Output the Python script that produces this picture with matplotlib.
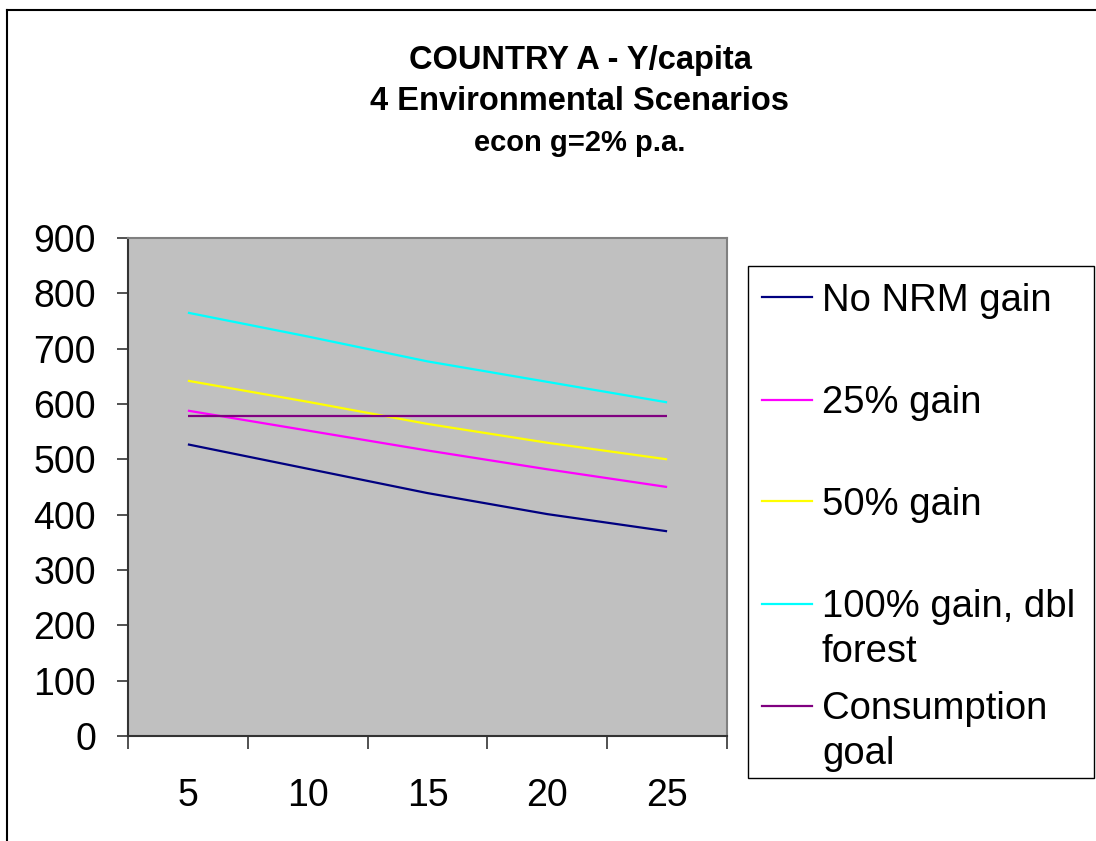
import matplotlib
matplotlib.use("Agg")
import matplotlib.pyplot as plt
from matplotlib.lines import Line2D
from matplotlib.patches import Rectangle
import numpy as np

plt.rcParams["font.family"] = ["Liberation Sans", "DejaVu Sans"]

# Y/capita by year, four environmental scenarios plus the consumption goal
years = ["5", "10", "15", "20", "25"]
no_nrm_gain = [527, 483, 439, 401, 370]
gain_25 = [588, 552, 516, 482, 450]
gain_50 = [642, 604, 564, 530, 500]
gain_100_dbl_forest = [765, 722, 677, 640, 603]
consumption_goal = [578, 578, 578, 578, 578]

series_names = ["No NRM gain", "25% gain", "50% gain",
                "100% gain, dbl\nforest", "Consumption\ngoal"]
series_colors = ["#000080", "#FF00FF", "#FFFF00", "#00FFFF", "#800080"]
series_values = [no_nrm_gain, gain_25, gain_50, gain_100_dbl_forest, consumption_goal]

W, H = 1096, 841
fig = plt.figure(figsize=(W / 100, H / 100), dpi=100)


def fx(x):
    return x / W


def fy(y):
    return 1 - y / H


# plot area in pixel bounds: left, top, right, bottom
L, T, R, B = 128, 238, 727, 736
ax = fig.add_axes([fx(L), fy(B), fx(R - L), (B - T) / H])
ax.set_facecolor("#C0C0C0")

pos = np.arange(1, len(years) + 1)
for vals, col in zip(series_values, series_colors):
    ax.plot(pos, vals, color=col, lw=1.6, solid_capstyle="butt")

ax.set_xlim(0.5, len(years) + 0.5)
ax.set_ylim(0, 900)

# category axis: tick marks between categories, labels centred on them
ax.set_xticks(np.arange(0.5, len(years) + 1, 1.0))
ax.set_xticklabels([])
ax.set_xticks(pos, minor=True)
ax.set_xticklabels(years, minor=True)
ax.tick_params(axis="x", which="major", direction="out", length=9,
               width=1.2, color="#333333")
ax.tick_params(axis="x", which="minor", length=0, pad=30, labelsize=27)

ax.set_yticks(np.arange(0, 901, 100))
ax.tick_params(axis="y", direction="out", length=8, width=1.2,
               color="#333333", pad=15, labelsize=27)

for side in ("left", "bottom"):
    ax.spines[side].set_color("#333333")
    ax.spines[side].set_linewidth(1.5)
for side in ("top", "right"):
    ax.spines[side].set_color("#808080")
    ax.spines[side].set_linewidth(1.5)

# chart title block
fig.text(fx(580), fy(60), "COUNTRY A - Y/capita", ha="center", va="center",
         fontsize=23.5, fontweight="bold")
fig.text(fx(580), fy(102), "4 Environmental Scenarios", ha="center",
         va="center", fontsize=23.5, fontweight="bold")
fig.text(fx(580), fy(143), "econ g=2% p.a.", ha="center", va="center",
         fontsize=21, fontweight="bold")

# legend box drawn in figure pixels
fig.patches.append(Rectangle((fx(748), fy(778)), fx(1094 - 748), (778 - 266) / H,
                             transform=fig.transFigure, facecolor="white",
                             edgecolor="black", lw=1.0))
entry_y = [297, 399.5, 501.5, 603.5, 705.5]
for name, col, yy in zip(series_names, series_colors, entry_y):
    fig.lines.append(Line2D([fx(762), fx(812)], [fy(yy), fy(yy)],
                            transform=fig.transFigure, color=col, lw=1.6))
    for i, line in enumerate(name.split("\n")):
        fig.text(fx(822), fy(yy + 13.7 + 44.5 * i), line, ha="left",
                 va="baseline", fontsize=27.5)

# outer chart border (top and left edges are visible)
fig.lines.append(Line2D([fx(7), 1], [fy(10), fy(10)], transform=fig.transFigure,
                        color="black", lw=1.5))
fig.lines.append(Line2D([fx(7), fx(7)], [fy(10), 0], transform=fig.transFigure,
                        color="black", lw=1.5))

fig.savefig("out.png", dpi=100)
